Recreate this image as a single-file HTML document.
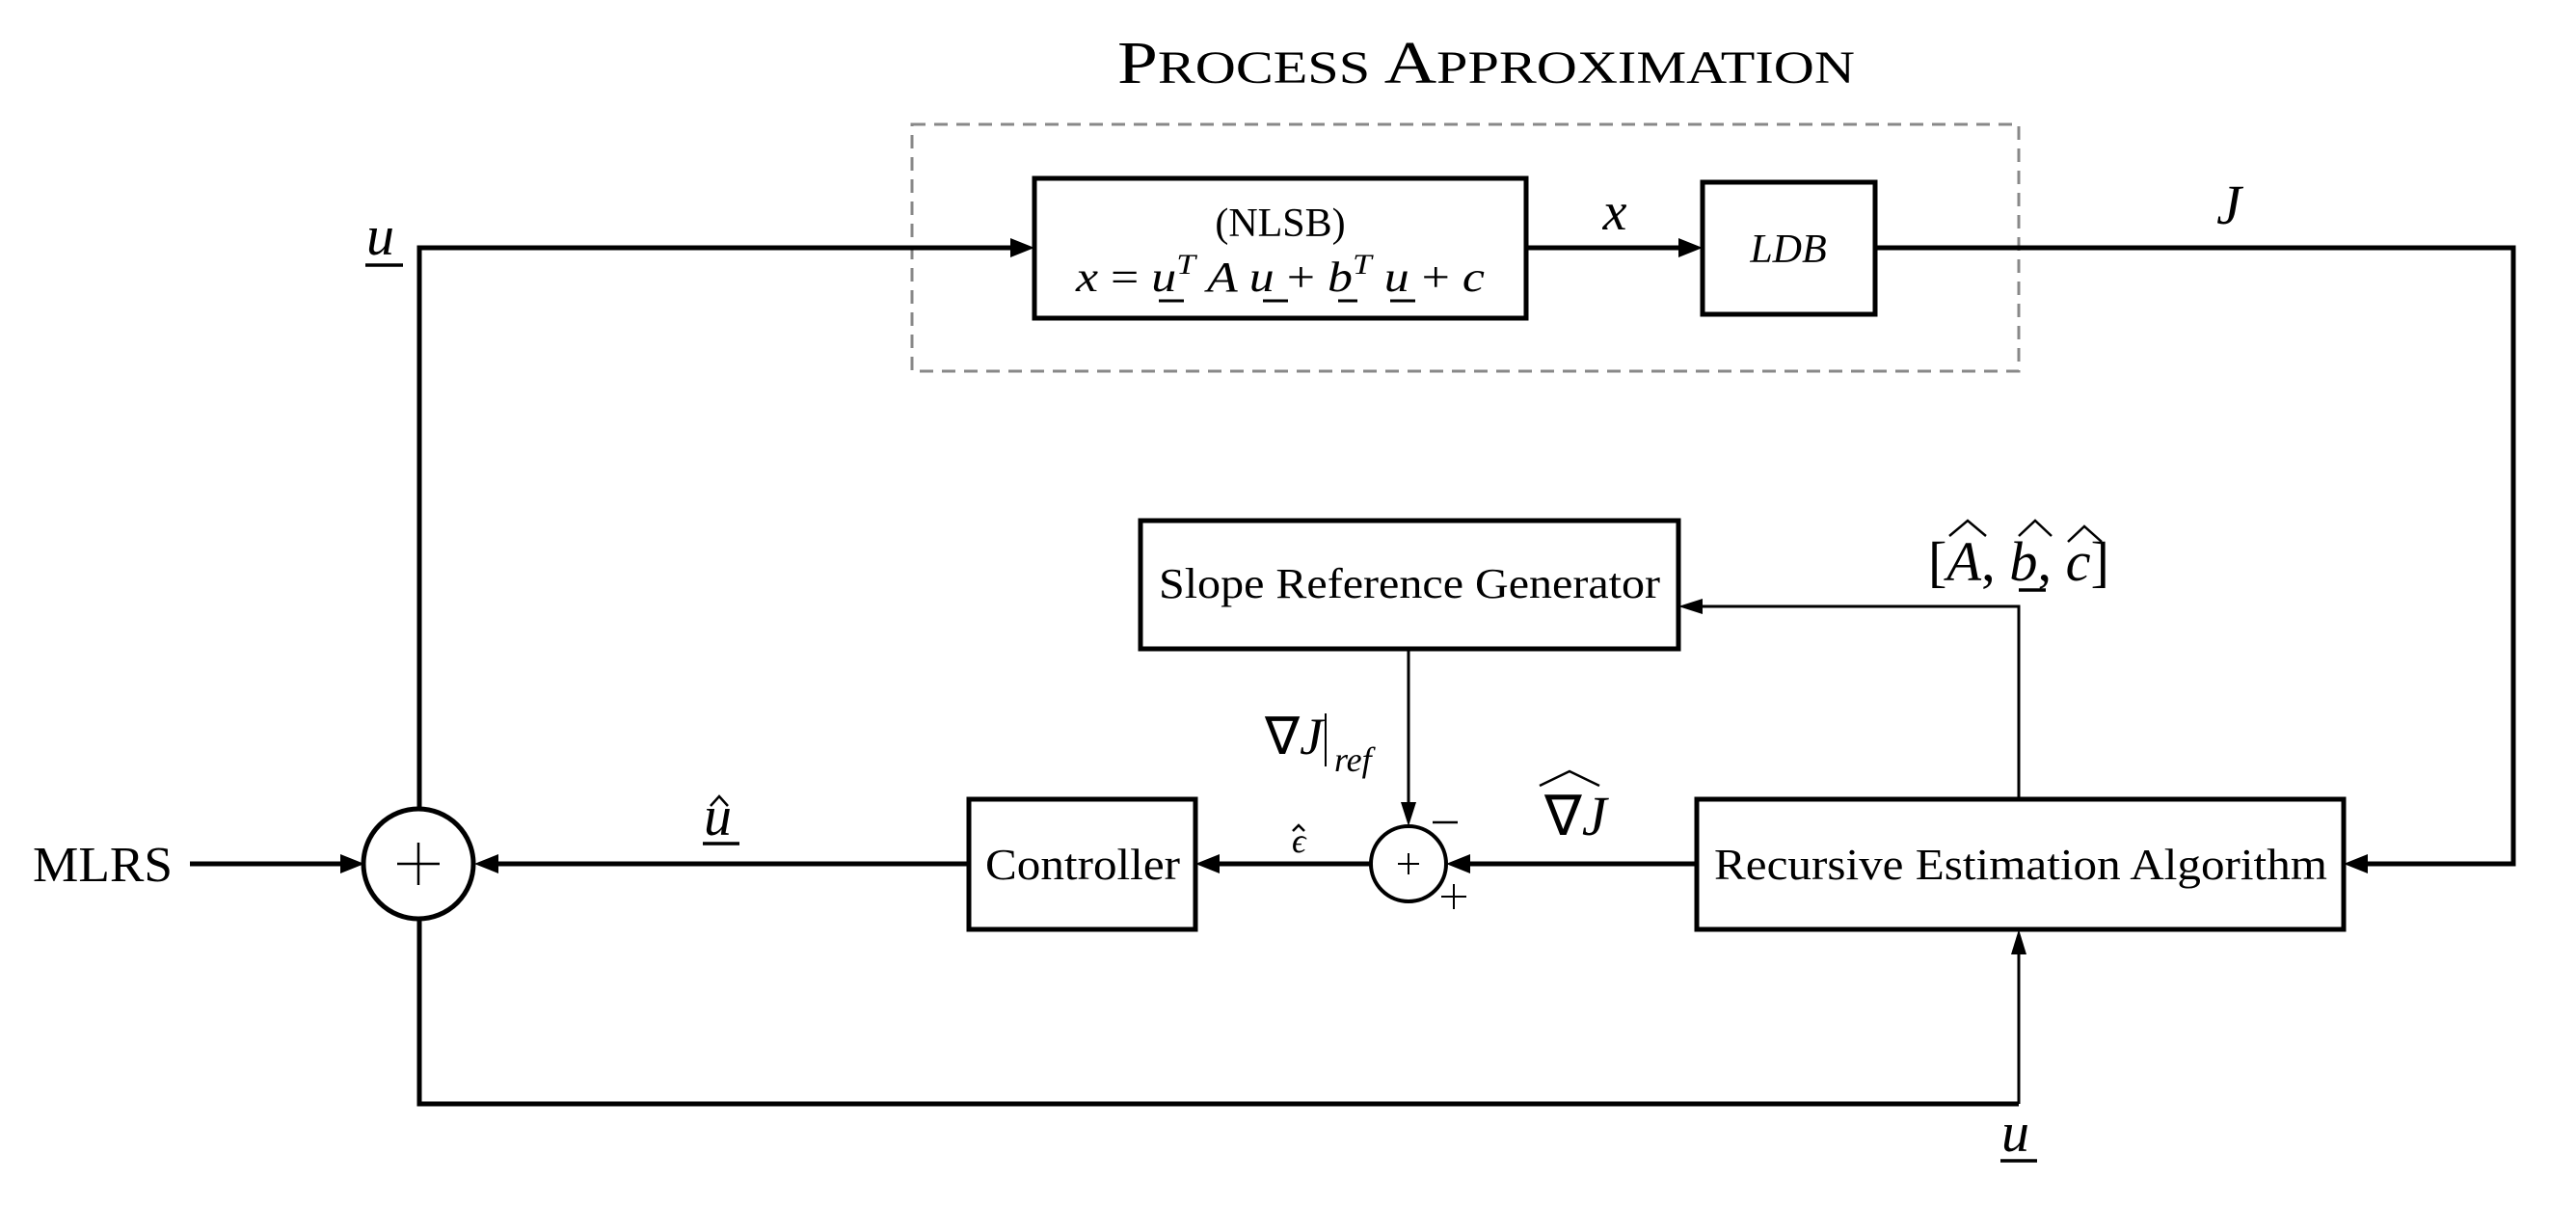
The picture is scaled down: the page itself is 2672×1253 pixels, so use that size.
<!DOCTYPE html>
<html><head><meta charset="utf-8"><style>html,body{margin:0;padding:0;background:#fff}svg{display:block}</style></head>
<body>
<svg width="2672" height="1253" viewBox="0 0 2672 1253" xmlns="http://www.w3.org/2000/svg" font-family="Liberation Serif, serif">
<defs>
<marker id="ah" markerWidth="10" markerHeight="10" refX="10" refY="5" orient="auto" markerUnits="userSpaceOnUse" viewBox="0 0 10 10"></marker>
</defs>
<!-- title -->
<text x="1159" y="86" textLength="765" lengthAdjust="spacingAndGlyphs" font-size="48"><tspan font-size="62">P</tspan>ROCESS <tspan font-size="62">A</tspan>PPROXIMATION</text>
<!-- dashed box -->
<rect x="946" y="129" width="1148" height="256" fill="none" stroke="#888" stroke-width="3" stroke-dasharray="14,9"/>
<!-- NLSB box -->
<rect x="1073" y="185" width="510" height="145" fill="none" stroke="#000" stroke-width="5"/>
<text x="1328" y="245" text-anchor="middle" font-size="42">(NLSB)</text>
<text x="1116" y="302" font-size="44" font-style="italic" textLength="424" lengthAdjust="spacingAndGlyphs">x <tspan font-style="normal">=</tspan> u<tspan dy="-18" font-size="30">T</tspan><tspan dy="18"> A u </tspan><tspan font-style="normal">+</tspan> b<tspan dy="-18" font-size="30">T</tspan><tspan dy="18"> u </tspan><tspan font-style="normal">+</tspan> c</text>
<g stroke="#000" stroke-width="3"><line x1="1202" y1="312" x2="1228" y2="312"/><line x1="1310" y1="312" x2="1336" y2="312"/><line x1="1388" y1="312" x2="1408" y2="312"/><line x1="1442" y1="312" x2="1468" y2="312"/></g>
<!-- LDB -->
<rect x="1766" y="189" width="179" height="137" fill="none" stroke="#000" stroke-width="5"/>
<text x="1855" y="272" text-anchor="middle" font-size="42" font-style="italic">LDB</text>
<!-- Slope ref -->
<rect x="1183" y="540" width="558" height="133" fill="none" stroke="#000" stroke-width="5"/>
<text x="1462" y="620" text-anchor="middle" font-size="44" textLength="520" lengthAdjust="spacingAndGlyphs">Slope Reference Generator</text>
<!-- Recursive -->
<rect x="1760" y="829" width="671" height="135" fill="none" stroke="#000" stroke-width="5"/>
<text x="1778" y="912" font-size="46" textLength="636" lengthAdjust="spacingAndGlyphs">Recursive Estimation Algorithm</text>
<!-- Controller -->
<rect x="1005" y="829" width="235" height="135" fill="none" stroke="#000" stroke-width="5"/>
<text x="1022" y="912" font-size="46" textLength="202" lengthAdjust="spacingAndGlyphs">Controller</text>
<!-- lines -->
<g stroke="#000" fill="none" stroke-width="5">
<polyline points="435,839 435,257 1050,257"/>
<line x1="1583" y1="257" x2="1744" y2="257"/>
<polyline points="1945,257 2607,257 2607,896 2455,896"/>
<line x1="1760" y1="896" x2="1522" y2="896"/>
<line x1="1422" y1="896" x2="1262" y2="896"/>
<line x1="1005" y1="896" x2="514" y2="896"/>
<line x1="197" y1="896" x2="356" y2="896"/>
<polyline points="435,953 435,1145 2094,1145"/>
</g>
<g stroke="#000" fill="none" stroke-width="3">
<line x1="2094" y1="1145" x2="2094" y2="988"/>
<polyline points="2094,829 2094,629 1764,629"/>
<line x1="1461" y1="673" x2="1461" y2="835"/>
</g>
<!-- arrowheads -->
<g fill="#000">
<polygon points="1073,257 1048,247 1048,267"/>
<polygon points="1766,257 1741,247 1741,267"/>
<polygon points="2431,896 2456,886 2456,906"/>
<polygon points="1500,896 1525,886 1525,906"/>
<polygon points="1240,896 1265,886 1265,906"/>
<polygon points="492,896 517,886 517,906"/>
<polygon points="378,896 353,886 353,906"/>
<polygon points="2094,964 2086,990 2102,990"/>
<polygon points="1741,629 1766,621 1766,637"/>
<polygon points="1461,857 1453,832 1469,832"/>
</g>
<!-- sums -->
<circle cx="434" cy="896" r="57" fill="none" stroke="#000" stroke-width="5"/>
<line x1="412" y1="896" x2="456" y2="896" stroke="#000" stroke-width="2.5"/>
<line x1="434" y1="874" x2="434" y2="918" stroke="#000" stroke-width="2.5"/>
<circle cx="1461" cy="896" r="39" fill="none" stroke="#000" stroke-width="4"/>
<line x1="1450" y1="896" x2="1472" y2="896" stroke="#000" stroke-width="2"/>
<line x1="1461" y1="885" x2="1461" y2="907" stroke="#000" stroke-width="2"/>
<line x1="1486" y1="853" x2="1512" y2="853" stroke="#000" stroke-width="2.5"/>
<line x1="1495" y1="930" x2="1521" y2="930" stroke="#000" stroke-width="2"/>
<line x1="1508" y1="917" x2="1508" y2="943" stroke="#000" stroke-width="2"/>
<!-- labels -->
<text x="380" y="264" font-size="58" font-style="italic">u</text>
<line x1="379" y1="275" x2="418" y2="275" stroke="#000" stroke-width="3.5"/>
<text x="1675" y="238" text-anchor="middle" font-size="56" font-style="italic">x</text>
<text x="2312" y="232" text-anchor="middle" font-size="58" font-style="italic">J</text>
<text x="2000" y="602" font-size="58" textLength="188" lengthAdjust="spacingAndGlyphs">[<tspan font-style="italic">A</tspan>, <tspan font-style="italic">b</tspan>, <tspan font-style="italic">c</tspan>]</text>
<g stroke="#000" fill="none" stroke-width="2.5">
<polyline points="2022,556 2041,540 2060,556"/><polyline points="2094,556 2111,540 2128,556"/><polyline points="2145,562 2162,546 2180,562"/>
<polyline points="1597,815 1628,800 1659,815"/>
<polyline points="737,836 746,826 755,836"/>
<polyline points="1341,862 1347,856 1353,862"/>
</g>
<line x1="2094" y1="612" x2="2122" y2="612" stroke="#000" stroke-width="3.5"/>
<text x="1312" y="782" font-size="54" font-style="italic"><tspan font-style="normal">∇</tspan>J</text>
<line x1="1375" y1="740" x2="1375" y2="795" stroke="#000" stroke-width="2"/>
<text x="1384" y="800" font-size="36" font-style="italic">ref</text>
<text x="1602" y="866" font-size="58" font-style="italic"><tspan font-style="normal">∇</tspan>J</text>
<text x="1340" y="884" font-size="36" font-style="italic">ϵ</text>
<text x="730" y="866" font-size="58" font-style="italic">u</text>
<line x1="729" y1="875" x2="767" y2="875" stroke="#000" stroke-width="3.5"/>
<text x="2076" y="1194" font-size="58" font-style="italic">u</text>
<line x1="2075" y1="1204" x2="2113" y2="1204" stroke="#000" stroke-width="3.5"/>
<text x="34" y="914" font-size="52" textLength="145" lengthAdjust="spacingAndGlyphs">MLRS</text>
</svg>
</body></html>
